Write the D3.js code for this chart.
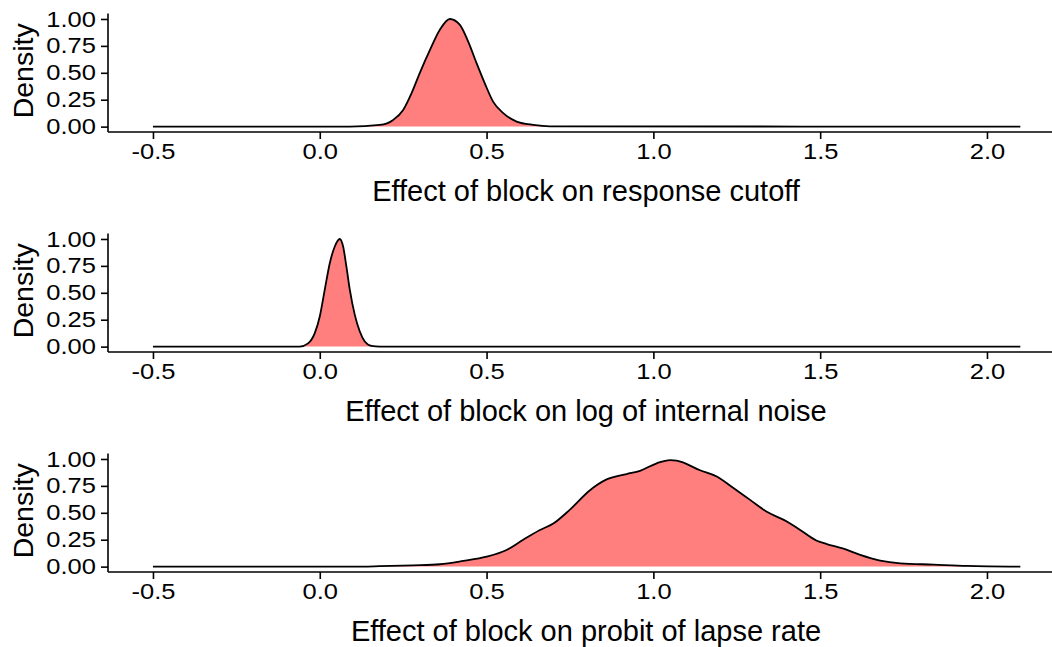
<!DOCTYPE html>
<html>
<head>
<meta charset="utf-8">
<script src="https://cdn.jsdelivr.net/npm/d3@7"></script>
<style>
  html, body { margin: 0; padding: 0; background: #fff; }
  svg { display: block; font-family: "Liberation Sans", Arial, sans-serif; }
</style>
</head>
<body>
<svg id="chart" width="1052" height="647"></svg>
<script>
// Scaled posterior densities (peak = 1) for the three block effects
const cutoffX    = [-0.5, 0.09, 0.18, 0.22, 0.25, 0.275, 0.30, 0.33, 0.36, 0.39, 0.42, 0.445, 0.47, 0.495, 0.52, 0.55, 0.59, 0.64, 0.69, 2.1];
const cutoffY    = [0, 0, 0.016, 0.062, 0.155, 0.31, 0.50, 0.71, 0.90, 1.0, 0.946, 0.79, 0.59, 0.40, 0.23, 0.125, 0.047, 0.016, 0.003, 0];

const noiseX     = [-0.5, -0.06, -0.035, -0.015, 0.0, 0.015, 0.03, 0.045, 0.06, 0.07, 0.08, 0.09, 0.105, 0.12, 0.135, 0.155, 0.18, 2.1];
const noiseY     = [0, 0, 0.03, 0.125, 0.28, 0.53, 0.775, 0.93, 1.0, 0.93, 0.74, 0.53, 0.295, 0.14, 0.047, 0.006, 0, 0];

const lapseX     = [-0.5, 0.10, 0.18, 0.28, 0.36, 0.43, 0.50, 0.56, 0.61, 0.66, 0.70, 0.75, 0.81, 0.86, 0.92, 0.96, 1.01, 1.05, 1.07, 1.14, 1.19, 1.24, 1.29, 1.34, 1.40, 1.44, 1.49, 1.52, 1.57, 1.62, 1.68, 1.74, 1.84, 1.94, 2.1];
const lapseY     = [0, 0, 0.004, 0.012, 0.022, 0.053, 0.093, 0.155, 0.25, 0.34, 0.40, 0.53, 0.71, 0.81, 0.86, 0.89, 0.96, 0.99, 0.985, 0.895, 0.837, 0.73, 0.62, 0.51, 0.42, 0.34, 0.24, 0.21, 0.167, 0.109, 0.056, 0.031, 0.019, 0.007, 0];

const panelTitles = [
  "Effect of block on response cutoff",
  "Effect of block on log of internal noise",
  "Effect of block on probit of lapse rate"
];
const xTicks = [-0.5, 0.0, 0.5, 1.0, 1.5, 2.0];
const yTicks = [0, 0.25, 0.5, 0.75, 1.0];

const panels = [
  { xs: cutoffX, ys: cutoffY, title: panelTitles[0] },
  { xs: noiseX,  ys: noiseY,  title: panelTitles[1] },
  { xs: lapseX,  ys: lapseY,  title: panelTitles[2] }
];

const svg = d3.select("#chart");
const fillColor = "#FF7F7F";

// plain hyphen for negatives
const fmtX = d => d.toFixed(1);
const fmtY = d => d.toFixed(2);

// shared horizontal scale (ggplot-style 5% expansion of [-0.5, 2.1])
const x = d3.scaleLinear().domain([-0.63, 2.23]).range([109.6, 1063.7]);

panels.forEach((p, i) => {
  const top = 13.6 + i * 220;
  const bottom = 132 + i * 220;
  const y = d3.scaleLinear().domain([-0.05, 1.05]).range([bottom, top]);
  const g = svg.append("g");
  const pts = p.xs.map((v, k) => [v, p.ys[k]]);

  const area = d3.area()
    .x(d => x(d[0])).y0(y(0)).y1(d => y(d[1]))
    .curve(d3.curveMonotoneX);
  const line = d3.line()
    .x(d => x(d[0])).y(d => y(d[1]))
    .curve(d3.curveMonotoneX);

  g.append("path").datum(pts).attr("d", area).attr("fill", fillColor);
  g.append("path").datum(pts).attr("d", line)
    .attr("fill", "none").attr("stroke", "#000").attr("stroke-width", 1.8)
    .attr("stroke-linejoin", "round");

  // axes
  const xAxis = d3.axisBottom(x).tickValues(xTicks)
    .tickFormat(fmtX).tickSizeOuter(0).tickSize(7).tickPadding(4);
  const yAxis = d3.axisLeft(y).tickValues(yTicks)
    .tickFormat(fmtY).tickSizeOuter(0).tickSize(7).tickPadding(5);

  const gx = g.append("g").attr("transform", `translate(0,${bottom})`).call(xAxis);
  const gy = g.append("g").attr("transform", `translate(108,0)`).call(yAxis);

  [gx, gy].forEach(a => {
    a.select(".domain").attr("stroke", "#000").attr("stroke-width", 1.6);
    a.selectAll(".tick line").attr("stroke", "#000").attr("stroke-width", 1.6);
    a.selectAll(".tick text").each(function () {
      const t = d3.select(this);
      const tx = +t.attr("x") || 0, ty = +t.attr("y") || 0;
      t.attr("x", 0).attr("y", 0)
        .attr("transform", `translate(${tx},${ty}) scale(1.16,1)`)
        .attr("fill", "#000")
        .style("font-size", "22px")
        .style("font-family", "'Liberation Sans', Arial, sans-serif");
    });
  });
  gx.select(".domain").attr("d", `M108,0H1052`);
  gy.select(".domain").attr("d", `M0,${top}V${bottom}`);

  // axis titles
  g.append("text")
    .attr("x", 586).attr("y", bottom + 68.5)
    .attr("text-anchor", "middle")
    .style("font-size", "29px")
    .text(p.title);
  g.append("text")
    .attr("transform", `translate(33,${(top + bottom) / 2 - 2}) rotate(-90)`)
    .attr("text-anchor", "middle")
    .style("font-size", "28.5px")
    .text("Density");
});
</script>
</body>
</html>
